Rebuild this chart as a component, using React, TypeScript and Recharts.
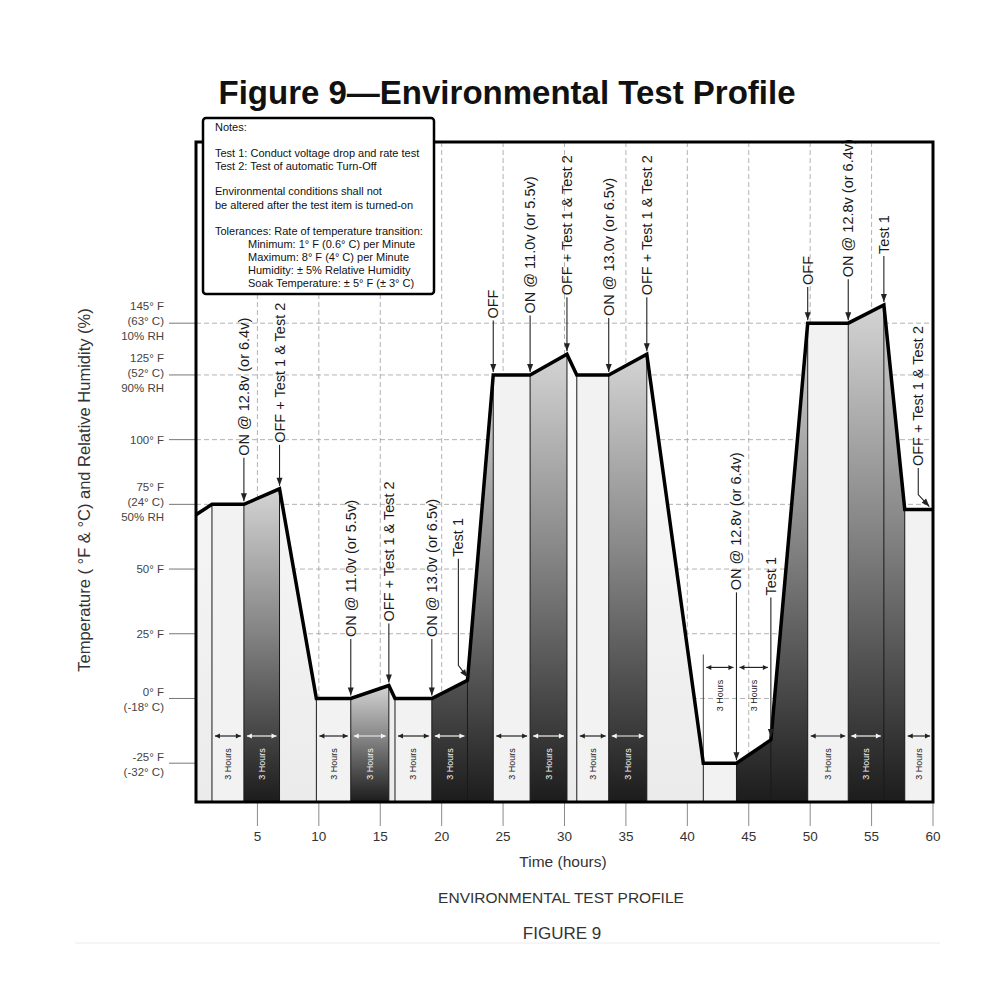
import React from 'react';
import { ComposedChart, Line, Area, XAxis, YAxis, CartesianGrid, ReferenceLine, ReferenceArea } from 'recharts';

// ---------- data ----------
const profileTime = [0, 1.3, 3.9, 6.8, 9.8, 12.6, 15.7, 16.2, 19.2, 22.1, 24.2, 27.2, 30.2, 31.0, 33.6, 36.7, 41.3, 44.0, 46.8, 49.8, 53.1, 56.0, 57.7, 60];
const profileTemp = [71, 75, 75, 81, 0, 0, 5, 0, 0, 7, 125, 125, 133, 125, 125, 133, -25, -25, -16, 145, 145, 152, 73, 73];

const soakStart = [1.3, 9.8, 16.2, 24.2, 31.0, 41.3, 49.8, 57.7];
const soakEnd = [3.9, 12.6, 19.2, 27.2, 33.6, 44.0, 53.1, 60];

const onStart = [3.9, 12.6, 19.2, 27.2, 33.6, 44.0, 53.1];
const onEnd = [6.8, 15.7, 24.2, 30.2, 36.7, 49.8, 57.7];

const edgeTimes = [1.3, 3.9, 6.8, 9.8, 12.6, 15.7, 16.2, 19.2, 22.1, 24.2, 27.2, 30.2, 31.0, 33.6, 36.7, 41.3, 44.0, 46.8, 49.8, 53.1, 56.0, 57.7];
const raisedEdgeTimes = [41.3];
const raisedEdgeTop = 17;

const xTicks = [5, 10, 15, 20, 25, 30, 35, 40, 45, 50, 55, 60];
const yTicks = [-25, 0, 25, 50, 75, 100, 125, 145];
const yTickLines: string[][] = [
  ['-25° F', '(-32° C)'],
  ['0° F', '(-18° C)'],
  ['25° F'],
  ['50° F'],
  ['75° F', '(24° C)', '50% RH'],
  ['100° F'],
  ['125° F', '(52° C)', '90% RH'],
  ['145° F', '(63° C)', '10% RH'],
];

// annotations: text position (time), arrow tip time, value where the text starts, text
const annoTime = [3.9, 6.8, 12.6, 15.7, 19.2, 21.36, 24.2, 27.2, 30.2, 33.6, 36.7, 44.0, 46.8, 49.8, 53.1, 56.0, 58.8];
const annoTip = [3.9, 6.8, 12.6, 15.7, 19.2, 22.1, 24.2, 27.2, 30.2, 33.6, 36.7, 44.0, 46.8, 49.8, 53.1, 56.0, 59.7];
const annoBase = [93, 98, 23, 29, 23, 54, 146, 148, 155, 147, 155, 41, 39, 159, 162, 171, 89];
const annoText = [
  'ON @ 12.8v (or 6.4v)',
  'OFF + Test 1 & Test 2',
  'ON @ 11.0v (or 5.5v)',
  'OFF + Test 1 & Test 2',
  'ON @ 13.0v (or 6.5v)',
  'Test 1',
  'OFF',
  'ON @ 11.0v (or 5.5v)',
  'OFF + Test 1 & Test 2',
  'ON @ 13.0v (or 6.5v)',
  'OFF + Test 1 & Test 2',
  'ON @ 12.8v (or 6.4v)',
  'Test 1',
  'OFF',
  'ON @ 12.8v (or 6.4v)',
  'Test 1',
  'OFF + Test 1 & Test 2',
];

// "3 Hours" markers
const hoursStart = [1.3, 3.9, 9.8, 12.6, 16.2, 19.2, 24.2, 27.2, 31.0, 33.6, 41.3, 44.0, 49.8, 53.1, 57.7];
const hoursEnd = [3.9, 6.8, 12.6, 15.7, 19.2, 22.1, 27.2, 30.2, 33.6, 36.7, 44.0, 46.8, 53.1, 56.0, 60];
const hoursLevel = [-14.5, -14.5, -14.5, -14.5, -14.5, -14.5, -14.5, -14.5, -14.5, -14.5, 12, 12, -14.5, -14.5, -14.5];
const hoursOnDark = [false, true, false, true, false, true, false, true, false, true, false, false, false, true, false];

const notesLines = [
  'Notes:',
  'Test 1: Conduct voltage drop and rate test',
  'Test 2: Test of automatic Turn-Off',
  'Environmental conditions shall not',
  'be altered after the test item is turned-on',
  'Tolerances: Rate of temperature transition:',
  'Minimum: 1° F (0.6° C) per Minute',
  'Maximum: 8° F (4° C) per Minute',
  'Humidity: ± 5% Relative Humidity',
  'Soak Temperature: ± 5° F (± 3° C)',
];

const Y_MIN = -40;
const Y_MAX = 215;

// ---------- derived ----------
const profile = profileTime.map((t, i) => ({ t, v: profileTemp[i] }));
const valueAt = (t: number) => {
  for (let i = 0; i < profileTime.length - 1; i++) {
    const a = profileTime[i], b = profileTime[i + 1];
    if (t >= a - 1e-9 && t <= b + 1e-9) {
      const f = b === a ? 0 : (t - a) / (b - a);
      return profileTemp[i] + f * (profileTemp[i + 1] - profileTemp[i]);
    }
  }
  return profileTemp[profileTemp.length - 1];
};
const bandData = (a: number, b: number) => profile.filter((p) => p.t >= a - 1e-9 && p.t <= b + 1e-9);

const FONT = "'Liberation Sans', Arial, Helvetica, sans-serif";

const head = (xa: number, ya: number, xb: number, yb: number, len = 7, w = 3) => {
  const dx = xb - xa, dy = yb - ya;
  const L = Math.hypot(dx, dy) || 1;
  const ux = dx / L, uy = dy / L;
  const bx = xb - ux * len, by = yb - uy * len;
  return `${xb},${yb} ${bx - uy * w},${by + ux * w} ${bx + uy * w},${by - ux * w}`;
};

const YTick = (props: any) => {
  const { x, y, payload } = props;
  const idx = yTicks.indexOf(payload.value);
  const lines = idx >= 0 ? yTickLines[idx] : [String(payload.value)];
  const offs = lines.length === 3 ? [-17, -2, 13] : lines.length === 2 ? [-6, 9] : [0];
  return (
    <g>
      {lines.map((l, i) => (
        <text key={i} x={x} y={y + offs[i]} dy="0.35em" textAnchor="end" fontSize={11.5} fill="#444" fontFamily={FONT}>
          {l}
        </text>
      ))}
    </g>
  );
};

const annoShape = (text: string) => (p: any) => {
  const { x1, y1, x2, y2 } = p;
  const tipY = y2 - 3;
  let d: string;
  let pts: string;
  if (Math.abs(x2 - x1) < 0.5) {
    d = `M${x1},${y1}L${x1},${tipY}`;
    pts = head(x1, y1, x1, tipY, 8, 3);
  } else {
    const bendY = tipY - 12;
    d = `M${x1},${y1}L${x1},${bendY}L${x2},${tipY}`;
    pts = head(x1, bendY, x2, tipY, 8, 3);
  }
  return (
    <g>
      <path d={d} stroke="#222" strokeWidth={1.1} fill="none" />
      <polygon points={pts} fill="#222" />
      <text
        transform={`translate(${x1 + 5},${y1 - 2}) rotate(-90)`}
        textAnchor="start"
        fontSize={14.5}
        fill="#1a1a1a"
        fontFamily={FONT}
      >
        {text}
      </text>
    </g>
  );
};

const hoursShape = (onDark: boolean) => (p: any) => {
  const { x1, y1, x2 } = p;
  const c = onDark ? '#f4f4f4' : '#222';
  const a = x1 + 3, b = x2 - 3;
  return (
    <g>
      <line x1={a} y1={y1} x2={b} y2={y1} stroke={c} strokeWidth={1.2} />
      <polygon points={head(b, y1, a, y1, 5, 2.5)} fill={c} />
      <polygon points={head(a, y1, b, y1, 5, 2.5)} fill={c} />
      <text
        transform={`translate(${(x1 + x2) / 2 + 3},${y1 + 28}) rotate(-90)`}
        textAnchor="middle"
        fontSize={9}
        fill={c}
        fontFamily={FONT}
      >
        3 Hours
      </text>
    </g>
  );
};

export default function App() {
  return (
    <div style={{ position: 'absolute', left: 0, top: 0, width: 1000, height: 1000, background: '#fff' }}>
      <ComposedChart
        width={1000}
        height={1000}
        data={profile}
        margin={{ top: 142, right: 67, bottom: 158, left: 0 }}
      >
        <defs>
          <linearGradient id="baseGrad" x1="0" y1="0" x2="0" y2="1">
            <stop offset="0" stopColor="#fcfcfc" />
            <stop offset="1" stopColor="#ebebeb" />
          </linearGradient>
          <linearGradient id="onGrad" x1="0" y1="0" x2="0" y2="1">
            <stop offset="0" stopColor="#d4d4d4" />
            <stop offset="0.45" stopColor="#858585" />
            <stop offset="1" stopColor="#1c1c1c" />
          </linearGradient>
        </defs>
        <CartesianGrid stroke="#a0a0a0" strokeDasharray="5 3" strokeWidth={0.8} />
        <XAxis
          dataKey="t"
          type="number"
          domain={[0, 60]}
          ticks={xTicks}
          interval={0}
          allowDataOverflow
          axisLine={false}
          tickSize={24}
          tickMargin={5}
          tickLine={{ stroke: '#8a8a8a', strokeWidth: 1 }}
          tick={{ fontSize: 13.5, fill: '#333', fontFamily: FONT }}
          height={40}
        />
        <YAxis
          type="number"
          domain={[Y_MIN, Y_MAX]}
          ticks={yTicks}
          interval={0}
          allowDataOverflow
          axisLine={false}
          tickSize={27}
          tickMargin={5}
          tickLine={{ stroke: '#777', strokeWidth: 1 }}
          tick={<YTick />}
          width={196}
        />
        <Area
          dataKey="v"
          type="linear"
          stroke="none"
          fill="url(#baseGrad)"
          fillOpacity={1}
          baseValue={Y_MIN}
          isAnimationActive={false}
          zIndex={100}
        />
        {soakStart.map((s, i) => (
          <Area
            key={'soak' + i}
            data={bandData(s, soakEnd[i])}
            dataKey="v"
            type="linear"
            stroke="none"
            fill="#f2f2f2"
            fillOpacity={1}
            baseValue={Y_MIN}
            isAnimationActive={false}
            zIndex={105}
          />
        ))}
        {onStart.map((s, i) => (
          <Area
            key={'on' + i}
            data={bandData(s, onEnd[i])}
            dataKey="v"
            type="linear"
            stroke="none"
            fill="url(#onGrad)"
            fillOpacity={1}
            baseValue={Y_MIN}
            isAnimationActive={false}
            zIndex={110}
          />
        ))}
        {edgeTimes.map((t) => (
          <ReferenceLine
            key={'edge' + t}
            segment={[{ x: t, y: Y_MIN }, { x: t, y: valueAt(t) }]}
            stroke="#1a1a1a"
            strokeWidth={1}
            zIndex={150}
          />
        ))}
        {raisedEdgeTimes.map((t) => (
          <ReferenceLine
            key={'redge' + t}
            segment={[{ x: t, y: valueAt(t) }, { x: t, y: raisedEdgeTop }]}
            stroke="#444"
            strokeWidth={1}
            zIndex={150}
          />
        ))}
        <Line
          dataKey="v"
          type="linear"
          stroke="#000"
          strokeWidth={3.5}
          dot={false}
          activeDot={false}
          isAnimationActive={false}
          zIndex={450}
        />
        {annoTime.map((t, i) => (
          <ReferenceLine
            key={'anno' + i}
            segment={[{ x: t, y: annoBase[i] }, { x: annoTip[i], y: valueAt(annoTip[i]) }]}
            shape={annoShape(annoText[i])}
            zIndex={700}
          />
        ))}
        {hoursStart.map((s, i) => (
          <ReferenceLine
            key={'hrs' + i}
            segment={[{ x: s, y: hoursLevel[i] }, { x: hoursEnd[i], y: hoursLevel[i] }]}
            shape={hoursShape(hoursOnDark[i])}
            zIndex={700}
          />
        ))}
        <ReferenceArea
          x1={0}
          x2={60}
          y1={Y_MIN}
          y2={Y_MAX}
          fill="none"
          fillOpacity={0}
          stroke="#000"
          strokeWidth={3}
          zIndex={800}
        />
      </ComposedChart>
      <svg
        width={1000}
        height={1000}
        style={{ position: 'absolute', left: 0, top: 0, pointerEvents: 'none' }}
      >
        <text x={507} y={104} textAnchor="middle" fontSize={33} fontWeight="bold" fill="#111" fontFamily={FONT}>
          Figure 9—Environmental Test Profile
        </text>
        <rect x={203} y={118} width={231} height={176} rx={3} fill="#fff" stroke="#000" strokeWidth={2.5} />
        {notesLines.map((l, i) => {
          const ys = [131, 156.5, 169.5, 194.5, 208.5, 234.5, 247.5, 260.5, 273.5, 286.5];
          const x = i >= 6 ? 248 : 215;
          return (
            <text key={i} x={x} y={ys[i]} fontSize={11} fill="#111" fontFamily={FONT}>
              {l}
            </text>
          );
        })}
        <text
          transform="translate(84,490) rotate(-90)"
          textAnchor="middle"
          dominantBaseline="central"
          fontSize={16.5}
          fill="#333"
          fontFamily={FONT}
        >
          Temperature ( °F &amp; °C) and Relative Humidity (%)
        </text>
        <text x={563} y={867} textAnchor="middle" fontSize={15.5} fill="#333" fontFamily={FONT}>
          Time (hours)
        </text>
        <text x={561} y={903} textAnchor="middle" fontSize={15.5} fill="#333" fontFamily={FONT}>
          ENVIRONMENTAL TEST PROFILE
        </text>
        <text x={562} y={939} textAnchor="middle" fontSize={17} fill="#333" fontFamily={FONT}>
          FIGURE 9
        </text>
        <line x1={75} y1={943} x2={940} y2={943} stroke="#ececec" strokeWidth={1} />
      </svg>
    </div>
  );
}
